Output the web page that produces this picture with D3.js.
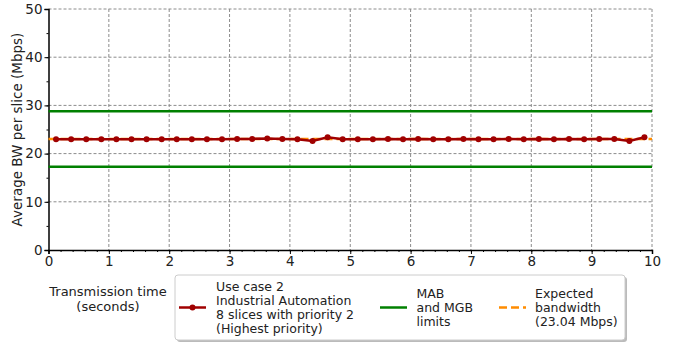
<!DOCTYPE html>
<html>
<head>
<meta charset="utf-8">
<script src="https://cdn.jsdelivr.net/npm/d3@7"></script>
<style>
  body { margin: 0; background: #fff; }
  text { font-family: "DejaVu Sans", sans-serif; fill: #222; }
</style>
</head>
<body>
<div id="plot"></div>
<script>
// data
var times = [0.125, 0.375, 0.625, 0.875, 1.125, 1.375, 1.625, 1.875, 2.125, 2.375,
  2.625, 2.875, 3.125, 3.375, 3.625, 3.875, 4.125, 4.375, 4.625, 4.875,
  5.125, 5.375, 5.625, 5.875, 6.125, 6.375, 6.625, 6.875, 7.125, 7.375,
  7.625, 7.875, 8.125, 8.375, 8.625, 8.875, 9.125, 9.375, 9.625, 9.875]
var bw = [23.0, 23.0, 23.0, 23.0, 23.0, 23.0, 23.0, 23.0, 23.0, 23.0,
  23.0, 23.0, 23.05, 23.05, 23.12, 23.05, 23.0, 22.6, 23.4, 23.0,
  23.0, 23.0, 23.05, 23.0, 23.05, 23.0, 23.0, 23.05, 23.0, 23.0,
  23.05, 23.0, 23.05, 23.0, 23.05, 23.0, 23.05, 23.05, 22.62, 23.38]
var expected = 23.04
var limits = [28.8, 17.28]
var xTicks = [0, 1, 2, 3, 4, 5, 6, 7, 8, 9, 10]
var yTicks = [0, 10, 20, 30, 40, 50]
var legendLabels = [
  ["Use case 2", "Industrial Automation", "8 slices with priority 2", "(Highest priority)"],
  ["MAB", "and MGB", "limits"],
  ["Expected", "bandwidth", "(23.04 Mbps)"]
]

var svgWidth = 673
var svgHeight = 343
var margin = { top: 9, right: 21, bottom: 93, left: 48.5 }
var width = svgWidth - margin.left - margin.right
var height = svgHeight - margin.top - margin.bottom

var red = "#a00000", green = "#008000", orange = "#ff8c00"

var svg = d3.select("#plot").append("svg")
  .attr("width", svgWidth)
  .attr("height", svgHeight)

var chartGroup = svg.append("g")
  .attr("transform", `translate(${margin.left}, ${margin.top})`)

var x = d3.scaleLinear().domain([0, 10]).range([0, width])
var y = d3.scaleLinear().domain([0, 50]).range([height, 0])

// grid
chartGroup.append("g").selectAll("line").data(xTicks.slice(1)).enter().append("line")
  .attr("x1", d => x(d)).attr("x2", d => x(d))
  .attr("y1", 0).attr("y2", height)
  .attr("stroke", "#8c8c8c").attr("stroke-dasharray", "3,2")
chartGroup.append("g").selectAll("line").data(yTicks.slice(1)).enter().append("line")
  .attr("y1", d => y(d)).attr("y2", d => y(d))
  .attr("x1", 0).attr("x2", width)
  .attr("stroke", "#8c8c8c").attr("stroke-dasharray", "3,2")

// axes
var bottomAxis = d3.axisBottom(x).tickValues(xTicks).tickSize(4).tickPadding(2).tickFormat(d3.format("d"))
var leftAxis = d3.axisLeft(y).tickValues(yTicks).tickSize(4).tickPadding(2)

var minorX = chartGroup.append("g").attr("transform", `translate(0, ${height})`)
  .call(d3.axisBottom(x).ticks(40).tickSize(2).tickFormat(""))
var minorY = chartGroup.append("g")
  .call(d3.axisLeft(y).ticks(10).tickSize(2).tickFormat(""))
minorX.select(".domain").remove()
minorY.select(".domain").remove()

var gx = chartGroup.append("g").attr("transform", `translate(0, ${height})`).call(bottomAxis)
var gy = chartGroup.append("g").call(leftAxis)
gx.attr("font-size", 13.5).attr("font-family", "DejaVu Sans")
gy.attr("font-size", 13.5).attr("font-family", "DejaVu Sans")
svg.selectAll(".domain").attr("stroke", "#000").attr("stroke-width", 1.5)

// axis labels
chartGroup.append("text")
  .attr("transform", "rotate(-90)")
  .attr("x", -height / 2)
  .attr("y", -27)
  .attr("text-anchor", "middle")
  .style("font-size", "13.5px")
  .text("Average BW per slice (Mbps)")

var xl = svg.append("text")
  .attr("text-anchor", "middle")
  .style("font-size", "13px")
xl.append("tspan").attr("x", 108).attr("y", 296).text("Transmission time")
xl.append("tspan").attr("x", 108).attr("y", 311).text("(seconds)")

// limits
chartGroup.selectAll(".limit").data(limits).enter().append("line")
  .attr("x1", 0).attr("x2", width)
  .attr("y1", d => y(d)).attr("y2", d => y(d))
  .attr("stroke", green).attr("stroke-width", 2.5)

// expected
chartGroup.append("line")
  .attr("x1", 0).attr("x2", width)
  .attr("y1", y(expected)).attr("y2", y(expected))
  .attr("stroke", orange).attr("stroke-width", 2.5).attr("stroke-dasharray", "8,4")

// measured
var pts = times.map((t, i) => [t, bw[i]])
chartGroup.append("path")
  .datum(pts)
  .attr("fill", "none")
  .attr("stroke", red).attr("stroke-width", 2.5)
  .attr("d", d3.line().x(d => x(d[0])).y(d => y(d[1])))
chartGroup.selectAll(".pt").data(pts).enter().append("circle")
  .attr("cx", d => x(d[0])).attr("cy", d => y(d[1]))
  .attr("r", 3).attr("fill", red)

// legend
var lg = svg.append("g")
lg.append("rect").attr("x", 177).attr("y", 277).attr("width", 450).attr("height", 65)
  .attr("rx", 3).attr("fill", "#bbb")
lg.append("rect").attr("x", 175).attr("y", 275).attr("width", 450).attr("height", 65)
  .attr("rx", 3).attr("fill", "#fff").attr("stroke", "#ccc")

lg.append("line").attr("x1", 179).attr("x2", 206).attr("y1", 307.5).attr("y2", 307.5)
  .attr("stroke", red).attr("stroke-width", 2.5)
lg.append("circle").attr("cx", 192.5).attr("cy", 307.5).attr("r", 3).attr("fill", red)
lg.append("line").attr("x1", 380).attr("x2", 407).attr("y1", 307.5).attr("y2", 307.5)
  .attr("stroke", green).attr("stroke-width", 2.5)
lg.append("line").attr("x1", 499).attr("x2", 526).attr("y1", 307.5).attr("y2", 307.5)
  .attr("stroke", orange).attr("stroke-width", 2.5).attr("stroke-dasharray", "8,4")

var legendX = [216, 416.5, 535]
legendLabels.forEach((lines, k) => {
  var t = lg.append("text").style("font-size", "12.5px")
  var top = 307.5 - (lines.length - 1) * 7
  lines.forEach((s, j) => {
    t.append("tspan").attr("x", legendX[k]).attr("y", top + j * 14 + 4.5).text(s)
  })
})
</script>
</body>
</html>
